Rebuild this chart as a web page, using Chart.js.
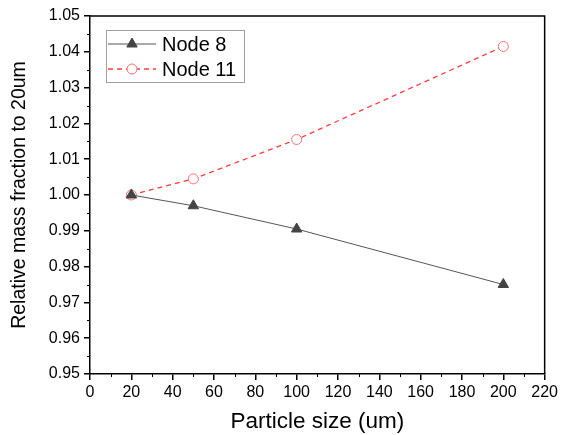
<!DOCTYPE html>
<html>
<head>
<meta charset="utf-8">
<script src="https://cdn.jsdelivr.net/npm/chart.js@4.4.1/dist/chart.umd.min.js"></script>
<style>
  html, body { margin: 0; padding: 0; background: #fff; }
</style>
</head>
<body>
<canvas id="my-chart" width="561" height="435"></canvas>
<script>
const particleSize = [20, 50, 100, 200];
const node8 = [1.000, 0.997, 0.9905, 0.975];
const node11 = [1.000, 1.0045, 1.0155, 1.0415];
const seriesNames = ['Node 8', 'Node 11'];

const FONT = '"Liberation Sans", Arial, sans-serif';

function toPoints(xs, ys) {
  return xs.map((x, i) => ({ x: x, y: ys[i] }));
}

// box round the plot, minor ticks and the legend inside the plot
const frame = {
  id: 'frame',
  afterDraw: (chart) => {
    const ctx = chart.ctx;
    const a = chart.chartArea;
    const xs = chart.scales.x;
    const ys = chart.scales.y;
    ctx.save();
    ctx.strokeStyle = '#000';
    ctx.lineWidth = 1.5;
    ctx.beginPath();
    ctx.moveTo(a.left, a.top);
    ctx.lineTo(a.right, a.top);
    ctx.lineTo(a.right, a.bottom);
    ctx.stroke();

    // minor ticks
    ctx.lineWidth = 1;
    ctx.beginPath();
    for (let v = xs.min + 10; v < xs.max; v += 20) {
      const px = Math.round(xs.getPixelForValue(v)) + 0.5;
      ctx.moveTo(px, a.bottom);
      ctx.lineTo(px, a.bottom + 3);
    }
    for (let v = ys.min + 0.005; v < ys.max; v += 0.01) {
      const py = Math.round(ys.getPixelForValue(v)) + 0.5;
      ctx.moveTo(a.left, py);
      ctx.lineTo(a.left - 3, py);
    }
    ctx.stroke();

    // legend
    const lx = a.left + 16, ly = a.top + 14, lw = 138, lh = 52;
    ctx.strokeStyle = '#a0a0a0';
    ctx.lineWidth = 1;
    ctx.strokeRect(lx + 0.5, ly + 0.5, lw, lh);
    chart.data.datasets.forEach((ds, i) => {
      const cy = ly + 14 + i * 25;
      ctx.strokeStyle = ds.borderColor;
      ctx.lineWidth = ds.borderWidth;
      ctx.setLineDash(ds.borderDash || []);
      ctx.beginPath();
      ctx.moveTo(lx + 2, cy);
      ctx.lineTo(lx + 50, cy);
      ctx.stroke();
      ctx.setLineDash([]);
      ctx.fillStyle = ds.pointBackgroundColor;
      ctx.strokeStyle = ds.pointBorderColor;
      ctx.lineWidth = ds.pointBorderWidth;
      Chart.helpers.drawPoint(ctx, {
        pointStyle: ds.pointStyle,
        radius: ds.pointRadius,
        borderWidth: ds.pointBorderWidth,
        rotation: 0
      }, lx + 26, cy);
      ctx.fillStyle = '#000';
      ctx.font = '20px ' + FONT;
      ctx.textAlign = 'left';
      ctx.textBaseline = 'middle';
      ctx.fillText(ds.label, lx + 56, cy + 1);
    });
    ctx.restore();
  }
};

const data = {
  datasets: [{
    label: seriesNames[0],
    data: toPoints(particleSize, node8),
    borderColor: '#555555',
    borderWidth: 1,
    pointStyle: 'triangle',
    pointRadius: 6,
    pointBorderWidth: 1,
    pointBackgroundColor: '#444444',
    pointBorderColor: '#444444',
    showLine: true
  }, {
    label: seriesNames[1],
    data: toPoints(particleSize, node11),
    borderColor: '#ff3b3b',
    borderWidth: 1.3,
    borderDash: [5, 4],
    pointStyle: 'circle',
    pointRadius: 5,
    pointBorderWidth: 1,
    pointBackgroundColor: '#ffffff',
    pointBorderColor: '#ff7070',
    showLine: true
  }]
};

const config = {
  type: 'scatter',
  data,
  options: {
    responsive: false,
    animation: false,
    layout: { padding: { left: 0, top: 16, right: 11, bottom: 0 } },
    scales: {
      x: {
        type: 'linear',
        min: 0,
        max: 220,
        afterFit: (s) => { s.height = 61; },
        ticks: { stepSize: 20, color: '#000', padding: 3, font: { size: 16, family: FONT } },
        grid: { drawOnChartArea: false, tickLength: 6, color: '#000', lineWidth: 1.5 },
        border: { color: '#000', width: 1.5 },
        title: { display: true, text: 'Particle size (um)', color: '#000', padding: { top: 0, bottom: 0 }, font: { size: 22.5, family: FONT } }
      },
      y: {
        min: 0.95,
        max: 1.05,
        afterFit: (s) => { s.width = 90; },
        ticks: { stepSize: 0.01, color: '#000', padding: 4, font: { size: 16, family: FONT },
          callback: (v) => v.toFixed(2) },
        grid: { drawOnChartArea: false, tickLength: 6, color: '#000', lineWidth: 1.5 },
        border: { color: '#000', width: 1.5 },
        title: { display: true, text: 'Relative mass fraction to 20um', color: '#000', padding: { top: 8, bottom: 0 }, font: { size: 19.5, family: FONT } }
      }
    },
    plugins: {
      legend: { display: false },
      tooltip: { enabled: false }
    }
  },
  plugins: [frame]
};

let myChart = new Chart(document.getElementById('my-chart'), config);
</script>
</body>
</html>
